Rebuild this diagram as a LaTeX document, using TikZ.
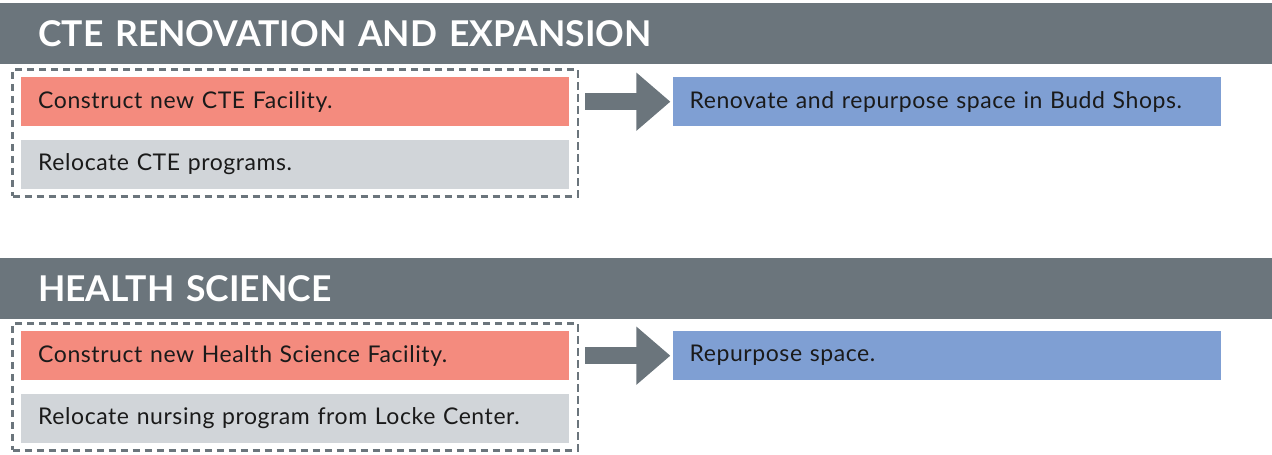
\documentclass[tikz,border=0pt]{standalone}
\usepackage{fontspec}
\setmainfont{Lato}
\newfontfamily\bodyfont[LetterSpace=2.5]{Lato}
\usetikzlibrary{arrows.meta,positioning,fit}
\definecolor{headgray}{HTML}{6B757C}
\definecolor{buildred}{HTML}{F48B7E}
\definecolor{movegray}{HTML}{D1D5D9}
\definecolor{reuseblue}{HTML}{7F9FD3}
\definecolor{inktext}{HTML}{1A1A1A}
\tikzset{
  header/.style={fill=headgray, text=white, anchor=north west, minimum height=61pt,
    text width=1196pt, inner xsep=38pt, inner ysep=0pt, align=left,
    font=\fontsize{35.5}{36}\selectfont\bfseries},
  taskbox/.style={minimum height=49pt, text width=514pt, inner xsep=17pt, inner ysep=0pt,
    align=left, text=inktext, font=\bodyfont\fontsize{23}{24}\selectfont},
  build/.style={taskbox, fill=buildred},
  move/.style={taskbox, fill=movegray},
  reuse/.style={taskbox, fill=reuseblue},
  group/.style={draw=headgray, line width=2.6pt, dash pattern=on 7.5pt off 4.5pt, inner xsep=8.5pt, inner ysep=7.5pt},
  flow/.style={draw=headgray, line width=17pt, -{Triangle[length=34pt,width=56pt]}}
}
\begin{document}
\begin{tikzpicture}[x=1pt,y=-1pt]
  \useasboundingbox (0,0) rectangle (1272,455);
  % CTE section
  \node[header] (head1) at (0,3) {CTE RENOVATION AND EXPANSION};
  \node[build, anchor=north west] (build1) at (21,77) {Construct new CTE Facility.};
  \node[move, below=13pt of build1] (move1) {Relocate CTE programs.};
  \node[reuse, right=103pt of build1] (reuse1) {Renovate and repurpose space in Budd Shops.};
  \node[group, fit=(build1)(move1)] (group1) {};
  \path (group1.east |- build1.east) ++(6,0) coordinate (start1);
  \draw[flow, shorten >=2pt] (start1) -- (reuse1.west);
  % Health science section
  \node[header] (head2) at (0,258) {HEALTH SCIENCE};
  \node[build, anchor=north west] (build2) at (21,331) {Construct new Health Science Facility.};
  \node[move, below=13pt of build2] (move2) {Relocate nursing program from Locke Center.};
  \node[reuse, right=103pt of build2] (reuse2) {Repurpose space.};
  \node[group, fit=(build2)(move2)] (group2) {};
  \path (group2.east |- build2.east) ++(6,0) coordinate (start2);
  \draw[flow, shorten >=2pt] (start2) -- (reuse2.west);
\end{tikzpicture}
\end{document}
